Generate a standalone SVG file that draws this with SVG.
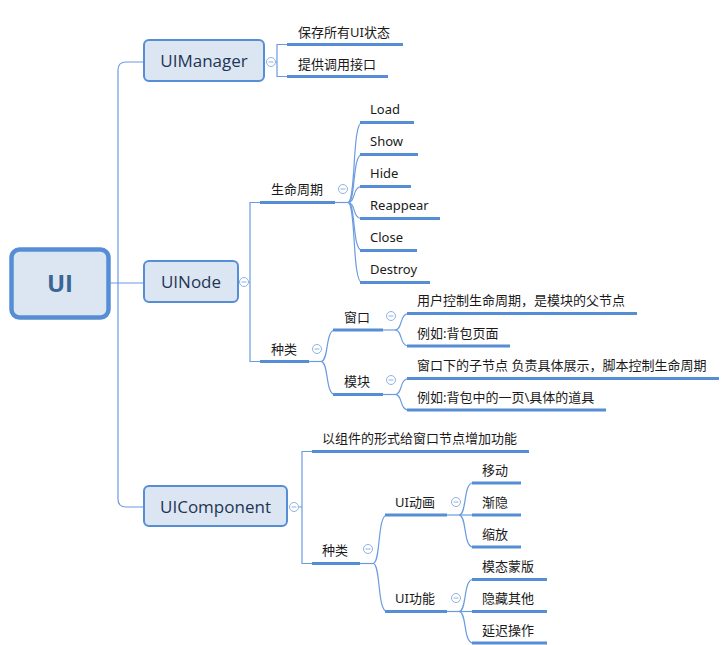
<svg xmlns="http://www.w3.org/2000/svg" width="723" height="645" viewBox="0 0 723 645">
<style>
.box{fill:#dce6f2;stroke:#558ed5;stroke-width:2}
.root{fill:#dce6f2;stroke:#558ed5;stroke-width:4.5}
.bt{font-family:"Segoe UI","Open Sans","Noto Sans",sans-serif;font-size:17px;fill:#1f3556;text-anchor:middle}
.rt{font-family:"Segoe UI","Open Sans","Noto Sans",sans-serif;font-size:24px;font-weight:bold;fill:#3a6595;text-anchor:middle}
.t{font-family:"Segoe UI","Noto Sans","Noto Sans CJK SC",sans-serif;font-size:13px;fill:#1a1a1a}
.ul{stroke:#558ed5;stroke-width:3;fill:none}
.c{stroke:#6b9be0;stroke-width:1.2;fill:none}
.col circle{fill:#fff;stroke:#8fb2e2;stroke-width:1}
.col line{stroke:#8fb2e2;stroke-width:1}
</style>
<rect width="723" height="645" fill="#fff"/>
<g id="connectors">
<path class="c" d="M110 283 H118 M118 283 H144"/>
<path class="c" d="M144 62 H126 Q118 62 118 70 V499 Q118 507 126 507 H144"/>
<path class="c" d="M276 62 H277 M287 44.5 H277 V76.5 H287"/>
<path class="c" d="M249 282 H250 M260 202.5 H250 V361.5 H260"/>
<path class="c" d="M335 202.5 H348"/>
<path class="c" d="M348 202.5 C356 202.5 352 122.5 362 122.5"/>
<path class="c" d="M348 202.5 C356 202.5 352 154.5 362 154.5"/>
<path class="c" d="M348 202.5 C356 202.5 352 186.5 362 186.5"/>
<path class="c" d="M348 202.5 C356 202.5 352 218.5 362 218.5"/>
<path class="c" d="M348 202.5 C356 202.5 352 250.5 362 250.5"/>
<path class="c" d="M348 202.5 C356 202.5 352 282.5 362 282.5"/>
<path class="c" d="M309 361.5 H321"/>
<path class="c" d="M321 361.5 C329 361.5 325 330 335 330"/>
<path class="c" d="M321 361.5 C329 361.5 325 394.5 335 394.5"/>
<path class="c" d="M383 330 H395"/>
<path class="c" d="M395 330 C403 330 399 313.5 409 313.5"/>
<path class="c" d="M395 330 C403 330 399 346 409 346"/>
<path class="c" d="M383 394.5 H395"/>
<path class="c" d="M395 394.5 C403 394.5 399 378.5 409 378.5"/>
<path class="c" d="M395 394.5 C403 394.5 399 410 409 410"/>
<path class="c" d="M299 507 H302 M312 451.5 H302 V563.5 H312"/>
<path class="c" d="M360 563.5 H373"/>
<path class="c" d="M373 563.5 C381 563.5 377 515 387 515"/>
<path class="c" d="M373 563.5 C381 563.5 377 611.5 387 611.5"/>
<path class="c" d="M447 515 H459"/>
<path class="c" d="M459 515 C467 515 463 483 473 483"/>
<path class="c" d="M459 515 H473"/>
<path class="c" d="M459 515 C467 515 463 547 473 547"/>
<path class="c" d="M447 611.5 H459"/>
<path class="c" d="M459 611.5 C467 611.5 463 579.5 473 579.5"/>
<path class="c" d="M459 611.5 H473"/>
<path class="c" d="M459 611.5 C467 611.5 463 643 473 643"/>
</g>
<g id="root"><rect class="root" x="11.5" y="249.5" width="97" height="68" rx="8"/><text class="rt" x="60" y="292">UI</text></g>
<g id="uimanager"><rect class="box" x="144" y="40" width="120" height="41" rx="5"/><text class="bt" x="204" y="67">UIManager</text>
<g class="col"><circle cx="271" cy="62" r="4.5"/><line x1="268.5" y1="62" x2="273.5" y2="62"/></g></g>
<g id="m1"><text class="t" x="298" y="37">保存所有UI状态</text><line class="ul" x1="287" y1="44.5" x2="403" y2="44.5"/></g>
<g id="m2"><text class="t" x="298" y="69">提供调用接口</text><line class="ul" x1="287" y1="76.5" x2="388" y2="76.5"/></g>
<g id="uinode"><rect class="box" x="144" y="261" width="94" height="41" rx="5"/><text class="bt" x="191" y="288">UINode</text>
<g class="col"><circle cx="244" cy="282" r="4.5"/><line x1="241.5" y1="282" x2="246.5" y2="282"/></g></g>
<g id="lifecycle"><text class="t" x="271" y="194">生命周期</text><line class="ul" x1="260" y1="202.5" x2="335" y2="202.5"/>
<g class="col"><circle cx="343" cy="189" r="4.5"/><line x1="340.5" y1="189" x2="345.5" y2="189"/></g></g>
<g id="load"><text class="t" x="370" y="114">Load</text><line class="ul" x1="360" y1="122.5" x2="414" y2="122.5"/></g>
<g id="show"><text class="t" x="370" y="146">Show</text><line class="ul" x1="360" y1="154.5" x2="418" y2="154.5"/></g>
<g id="hide"><text class="t" x="370" y="178">Hide</text><line class="ul" x1="360" y1="186.5" x2="411" y2="186.5"/></g>
<g id="reappear"><text class="t" x="370" y="210">Reappear</text><line class="ul" x1="360" y1="218.5" x2="440" y2="218.5"/></g>
<g id="close"><text class="t" x="370" y="242">Close</text><line class="ul" x1="360" y1="250.5" x2="417" y2="250.5"/></g>
<g id="destroy"><text class="t" x="370" y="274">Destroy</text><line class="ul" x1="360" y1="282.5" x2="430" y2="282.5"/></g>
<g id="kinds1"><text class="t" x="271" y="354">种类</text><line class="ul" x1="260" y1="361.5" x2="309" y2="361.5"/>
<g class="col"><circle cx="317" cy="349" r="4.5"/><line x1="314.5" y1="349" x2="319.5" y2="349"/></g></g>
<g id="window"><text class="t" x="344" y="322">窗口</text><line class="ul" x1="333" y1="330" x2="383" y2="330"/>
<g class="col"><circle cx="391" cy="316" r="4.5"/><line x1="388.5" y1="316" x2="393.5" y2="316"/></g></g>
<g id="w1"><text class="t" x="417" y="305">用户控制生命周期，是模块的父节点</text><line class="ul" x1="407" y1="313.5" x2="637" y2="313.5"/></g>
<g id="w2"><text class="t" x="417" y="338">例如:背包页面</text><line class="ul" x1="407" y1="346" x2="510" y2="346"/></g>
<g id="module"><text class="t" x="344" y="386">模块</text><line class="ul" x1="333" y1="394.5" x2="383" y2="394.5"/>
<g class="col"><circle cx="391" cy="380" r="4.5"/><line x1="388.5" y1="380" x2="393.5" y2="380"/></g></g>
<g id="mo1"><text class="t" x="417" y="370">窗口下的子节点 负责具体展示，脚本控制生命周期</text><line class="ul" x1="407" y1="378.5" x2="719" y2="378.5"/></g>
<g id="mo2"><text class="t" x="417" y="402">例如:背包中的一页\具体的道具</text><line class="ul" x1="407" y1="410" x2="606" y2="410"/></g>
<g id="uicomponent"><rect class="box" x="144" y="486" width="143" height="40" rx="5"/><text class="bt" x="215.5" y="513">UIComponent</text>
<g class="col"><circle cx="294" cy="507" r="4.5"/><line x1="291.5" y1="507" x2="296.5" y2="507"/></g></g>
<g id="c1"><text class="t" x="322" y="443">以组件的形式给窗口节点增加功能</text><line class="ul" x1="312" y1="451.5" x2="529" y2="451.5"/></g>
<g id="kinds2"><text class="t" x="322" y="555">种类</text><line class="ul" x1="312" y1="563.5" x2="360" y2="563.5"/>
<g class="col"><circle cx="368" cy="549" r="4.5"/><line x1="365.5" y1="549" x2="370.5" y2="549"/></g></g>
<g id="anim"><text class="t" x="395" y="507">UI动画</text><line class="ul" x1="385" y1="515" x2="447" y2="515"/>
<g class="col"><circle cx="456" cy="502" r="4.5"/><line x1="453.5" y1="502" x2="458.5" y2="502"/></g></g>
<g id="a1"><text class="t" x="482" y="475">移动</text><line class="ul" x1="472" y1="483" x2="521" y2="483"/></g>
<g id="a2"><text class="t" x="482" y="507">渐隐</text><line class="ul" x1="472" y1="515" x2="521" y2="515"/></g>
<g id="a3"><text class="t" x="482" y="539">缩放</text><line class="ul" x1="472" y1="547" x2="521" y2="547"/></g>
<g id="func"><text class="t" x="395" y="603">UI功能</text><line class="ul" x1="385" y1="611.5" x2="447" y2="611.5"/>
<g class="col"><circle cx="456" cy="598" r="4.5"/><line x1="453.5" y1="598" x2="458.5" y2="598"/></g></g>
<g id="f1"><text class="t" x="482" y="571">模态蒙版</text><line class="ul" x1="472" y1="579.5" x2="547" y2="579.5"/></g>
<g id="f2"><text class="t" x="482" y="603">隐藏其他</text><line class="ul" x1="472" y1="611.5" x2="547" y2="611.5"/></g>
<g id="f3"><text class="t" x="482" y="635">延迟操作</text><line class="ul" x1="472" y1="643" x2="547" y2="643"/></g>
</svg>
